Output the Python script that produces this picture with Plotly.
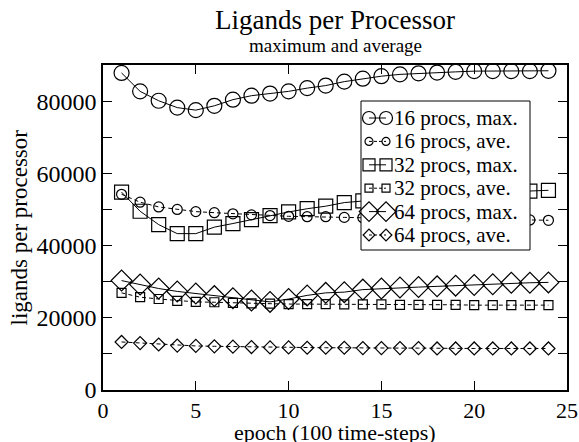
import plotly.graph_objects as go

epochs = list(range(1, 25))

p16_max = [87800, 82700, 80100, 78200, 77500, 78700, 80400, 81500, 82100, 82700,
           83600, 84300, 85400, 86200, 86900, 87400, 87700, 87900, 88100, 88300,
           88300, 88300, 88300, 88400]
p16_ave = [54200, 52000, 50700, 50000, 49400, 49100, 48800, 48500, 48300, 48100,
           48000, 48000, 47800, 47700, 47600, 47500, 47400, 47300, 47300, 47200,
           47200, 47100, 47100, 47000]
p32_max = [54800, 49500, 45800, 43300, 43300, 45100, 46100, 47200, 48300, 49300,
           50200, 50900, 51900, 52400, 52800, 53200, 53500, 53800, 54100, 54400,
           54700, 54900, 55100, 55300]
p32_ave = [26900, 25700, 25200, 24700, 24400, 24300, 24100, 24000, 23900, 23800,
           23800, 23800, 23700, 23700, 23700, 23600, 23600, 23600, 23600, 23500,
           23500, 23500, 23500, 23500]
p64_max = [30300, 29200, 28100, 27300, 26700, 26000, 25400, 24800, 24400, 25200,
           26200, 26900, 27100, 27800, 28100, 28400, 28500, 28700, 28900, 29100,
           29300, 29700, 29700, 29800]
p64_ave = [13300, 13000, 12600, 12300, 12200, 12100, 12000, 11900, 11800, 11800,
           11700, 11700, 11700, 11600, 11600, 11600, 11600, 11500, 11500, 11500,
           11500, 11500, 11500, 11500]

series_names = ["16 procs, max.", "16 procs, ave.", "32 procs, max.",
                "32 procs, ave.", "64 procs, max.", "64 procs, ave."]
series_values = [p16_max, p16_ave, p32_max, p32_ave, p64_max, p64_ave]

# styles
symbols = ["circle-open", "circle-open", "square-open", "square-open", "diamond-open", "diamond-open"]
msizes = [15, 10, 14, 9, 16, 10]
legend_msizes = [13, 8, 12, 8, 15, 9]
dashes = ["solid", "4px,3px", "solid", "4px,3px", "solid", "4px,3px"]

FF = "Liberation Serif"

fig = go.Figure()
for name, vals, sym, size, dash in zip(series_names, series_values, symbols, msizes, dashes):
    fig.add_trace(go.Scatter(
        x=epochs, y=vals, name=name, mode="lines+markers", showlegend=False,
        line=dict(color="black", width=1, dash=dash),
        marker=dict(symbol=sym, size=size, color="black", line=dict(width=1.2, color="black")),
    ))

# ---- custom legend drawn on an overlay axis measured in pixels of the plot area ----
L, R, T, B = 103, 567, 65, 390          # plot-area pixel box
box_x0, box_x1, box_y0, box_y1 = 361, 530, 101, 250
row_y0, row_dy = 118, 23.4
sym_x = [369, 386]
text_x = 392

fig.add_trace(go.Scatter(
    x=[box_x0, box_x1, box_x1, box_x0, box_x0],
    y=[box_y0, box_y0, box_y1, box_y1, box_y0],
    xaxis="x2", yaxis="y2", mode="lines", fill="toself", fillcolor="white",
    line=dict(color="black", width=1), hoverinfo="skip", showlegend=False,
))
annotations = []
for i, (name, sym, lsz, dash) in enumerate(zip(series_names, symbols, legend_msizes, dashes)):
    ry = row_y0 + i * row_dy
    fig.add_trace(go.Scatter(
        x=sym_x, y=[ry, ry], xaxis="x2", yaxis="y2", mode="lines+markers",
        line=dict(color="black", width=1, dash=dash if dash == "solid" else "3px,2px"),
        marker=dict(symbol=sym, size=lsz, color="black", line=dict(width=1.2, color="black")),
        hoverinfo="skip", showlegend=False,
    ))
    annotations.append(dict(
        text=name, x=text_x, y=ry, xref="x2", yref="y2", xanchor="left", yanchor="middle",
        showarrow=False, font=dict(size=21, family=FF, color="black"),
    ))

annotations += [
    dict(text="Ligands per Processor", x=0.5, y=1.0, xref="paper", yref="paper",
         xanchor="center", yanchor="middle", yshift=45, showarrow=False,
         font=dict(size=27, family=FF, color="black")),
    dict(text="maximum and average", x=0.5, y=1.0, xref="paper", yref="paper",
         xanchor="center", yanchor="middle", yshift=20, showarrow=False,
         font=dict(size=19, family=FF, color="black")),
    # axis titles
    dict(text="epoch (100 time-steps)", x=0.5, y=0.0, xref="paper", yref="paper",
         xanchor="center", yanchor="middle", yshift=-42, showarrow=False,
         font=dict(size=22, family=FF, color="black")),
    dict(text="ligands per processor", x=0.0, y=0.5, xref="paper", yref="paper",
         xanchor="center", yanchor="middle", xshift=-84, showarrow=False, textangle=-90,
         font=dict(size=23, family=FF, color="black")),
]

fig.update_layout(
    template="simple_white",
    width=579, height=442,
    margin=dict(l=L, r=579 - R, t=T, b=442 - B, autoexpand=False),
    paper_bgcolor="white", plot_bgcolor="white",
    font=dict(family=FF, color="black", size=20),
    showlegend=False,
    annotations=annotations,
    xaxis2=dict(overlaying="x", range=[L, R], visible=False, fixedrange=True, automargin=False),
    yaxis2=dict(overlaying="y", range=[B, T], visible=False, fixedrange=True, automargin=False),
)

fig.layout.xaxis.update(
    range=[0, 25], dtick=5, tick0=0, automargin=False, ticklabeloverflow="allow",
    ticks="inside", ticklen=9, tickwidth=1, tickcolor="black",
    showline=True, linecolor="black", linewidth=1.5, mirror="ticks",
    showgrid=False, zeroline=False,
    tickfont=dict(size=22, family=FF, color="black"),
)
fig.layout.yaxis.update(
    range=[0, 90000], dtick=20000, tick0=0, automargin=False, ticklabeloverflow="allow",
    ticks="inside", ticklen=9, tickwidth=1, tickcolor="black",
    minor=dict(dtick=10000, ticks="inside", ticklen=9, tickcolor="black", showgrid=False),
    showline=True, linecolor="black", linewidth=1.5, mirror="ticks",
    showgrid=False, zeroline=False,
    tickfont=dict(size=24, family=FF, color="black"), tickformat="d",
)

fig.write_html("out.html")
